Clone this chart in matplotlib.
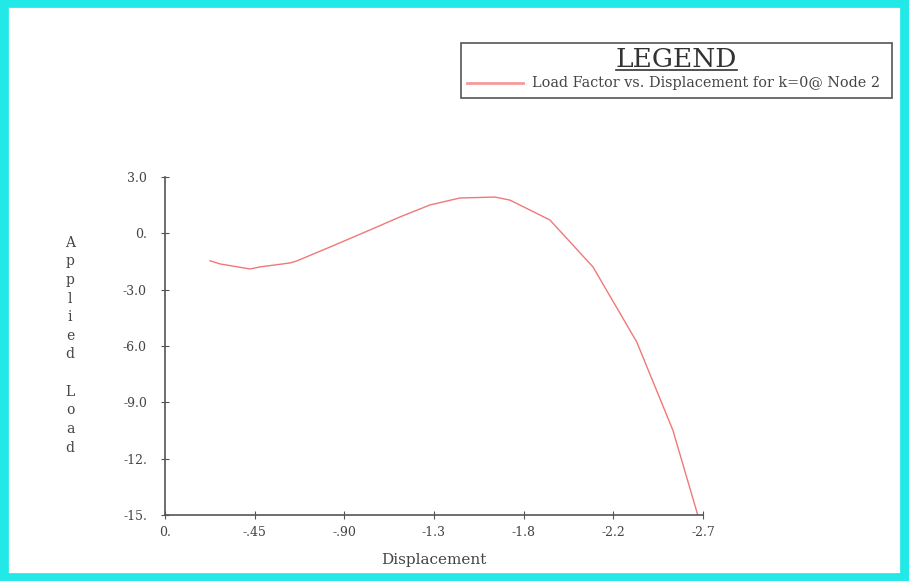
import matplotlib.pyplot as plt
from matplotlib.patches import Rectangle
from matplotlib.lines import Line2D

# curve
displacement = [-0.226, -0.276, -0.427, -0.477, -0.627, -0.662, -0.853, -1.029, -1.179,
                -1.330, -1.480, -1.656, -1.731, -1.932, -2.148, -2.368, -2.549, -2.674]
load = [-1.46, -1.63, -1.90, -1.79, -1.58, -1.47, -0.62, 0.18, 0.87,
        1.51, 1.88, 1.93, 1.77, 0.71, -1.79, -5.79, -10.48, -15.0]

x_ticks = [0, -0.45, -0.90, -1.35, -1.80, -2.25, -2.70]
x_labels = ['0.', '-.45', '-.90', '-1.3', '-1.8', '-2.2', '-2.7']
y_ticks = [3, 0, -3, -6, -9, -12, -15]
y_labels = ['3.0', '0.', '-3.0', '-6.0', '-9.0', '-12.', '-15.']

plt.rcParams['font.family'] = ['DejaVu Serif']
plt.rcParams['axes.unicode_minus'] = False

fig = plt.figure(figsize=(9.09, 5.81), dpi=100)
fig.add_artist(Rectangle((0.004, 0.006), 0.992, 0.988, transform=fig.transFigure,
                         fill=False, edgecolor='#22e8e8', linewidth=7))

ax = fig.add_axes([0.1815, 0.1136, 0.5918, 0.5818])
ax.plot(displacement, load, color='#f07878', linewidth=1)
ax.set_xlim(0, -2.7)
ax.set_ylim(-15, 3)
ax.set_xticks(x_ticks)
ax.set_xticklabels(x_labels)
ax.set_yticks(y_ticks)
ax.set_yticklabels(y_labels)
ax.tick_params(direction='inout', length=6, colors='#555555', labelsize=9, labelcolor='#444444')
ax.tick_params(axis='y', pad=10)
ax.tick_params(axis='x', pad=5)
for s in ['top', 'right']:
    ax.spines[s].set_visible(False)
for s in ['left', 'bottom']:
    ax.spines[s].set_color('#555555')
    ax.spines[s].set_linewidth(1.2)

ax.set_xlabel('Displacement', fontsize=11, color='#444444', labelpad=10)
fig.text(0.077, 0.406, '\n'.join('Applied Load'), ha='center', va='center',
         fontsize=10, color='#444444', linespacing=1.42)

# legend box
fig.add_artist(Rectangle((0.507, 0.831), 0.474, 0.095, transform=fig.transFigure,
                         fill=False, edgecolor='#555555', linewidth=1.2))
fig.text(0.744, 0.884, 'LEGEND', ha='center', va='baseline', fontsize=19, color='#333333')
fig.add_artist(Line2D([0.678, 0.811], [0.880, 0.880], transform=fig.transFigure,
                      color='#333333', linewidth=1.2))
fig.add_artist(Line2D([0.514, 0.575], [0.857, 0.857], transform=fig.transFigure,
                      color='#f59a9a', linewidth=2))
fig.text(0.585, 0.857, 'Load Factor vs. Displacement for k=0@ Node 2', ha='left',
         va='center', fontsize=10.4, color='#444444')

fig.savefig('out.png', dpi=100, facecolor='white')
